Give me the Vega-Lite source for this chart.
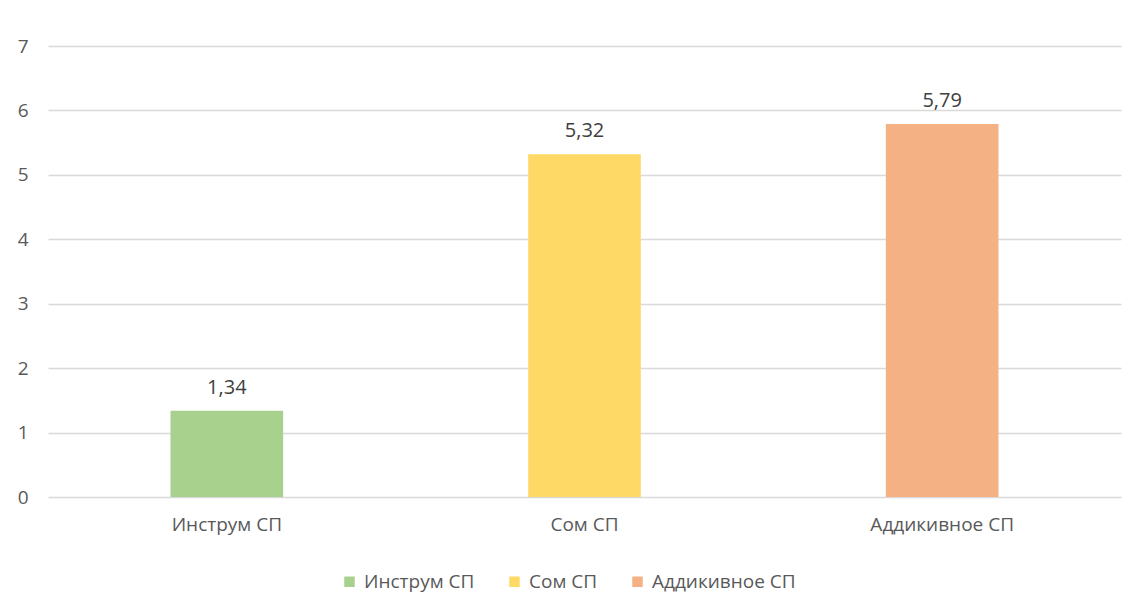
{
  "$schema": "https://vega.github.io/schema/vega-lite/v6.json",
  "autosize": {"type": "none"},
  "padding": {"left": 48, "top": 46, "right": 9, "bottom": 104},
  "width": 1073,
  "height": 451,
  "background": "white",
  "data": {
    "values": [
      {"category": "Инструм СП", "value": 1.34, "label": "1,34"},
      {"category": "Сом СП", "value": 5.32, "label": "5,32"},
      {"category": "Аддикивное СП", "value": 5.79, "label": "5,79"}
    ]
  },
  "encoding": {
    "x": {
      "field": "category",
      "type": "nominal",
      "sort": null,
      "scale": {"paddingInner": 0.685, "paddingOuter": 0.3425},
      "axis": {
        "title": null,
        "labelAngle": 0,
        "domain": false,
        "ticks": false,
        "labelPadding": 18,
        "labelFont": "Open Sans",
        "labelFontSize": 19,
        "labelColor": "#595959"
      }
    }
  },
  "layer": [
    {
      "mark": {"type": "bar"},
      "encoding": {
        "y": {
          "field": "value",
          "type": "quantitative",
          "scale": {"domain": [0, 7], "nice": false},
          "axis": {
            "title": null,
            "values": [0, 1, 2, 3, 4, 5, 6, 7],
            "format": "d",
            "domain": false,
            "ticks": false,
            "labelPadding": 20,
            "labelFont": "Open Sans",
            "labelFontSize": 19,
            "labelColor": "#595959",
            "gridColor": "#D9D9D9",
            "gridWidth": 1.3
          }
        },
        "color": {
          "field": "category",
          "type": "nominal",
          "sort": null,
          "scale": {
            "domain": ["Инструм СП", "Сом СП", "Аддикивное СП"],
            "range": ["#A9D18E", "#FFD966", "#F4B183"]
          },
          "legend": {
            "title": null,
            "orient": "none",
            "direction": "horizontal",
            "legendX": 292,
            "legendY": 526,
            "symbolType": "square",
            "symbolSize": 110,
            "symbolStrokeWidth": 0,
            "labelFont": "Open Sans",
            "labelFontSize": 19,
            "labelColor": "#595959",
            "labelOffset": 5,
            "columnPadding": 30
          }
        }
      }
    },
    {
      "mark": {
        "type": "text",
        "baseline": "bottom",
        "dy": -13,
        "font": "Open Sans",
        "fontSize": 20,
        "color": "#404040"
      },
      "encoding": {
        "y": {"field": "value", "type": "quantitative"},
        "text": {"field": "label"}
      }
    }
  ],
  "config": {
    "view": {"stroke": null}
  }
}
